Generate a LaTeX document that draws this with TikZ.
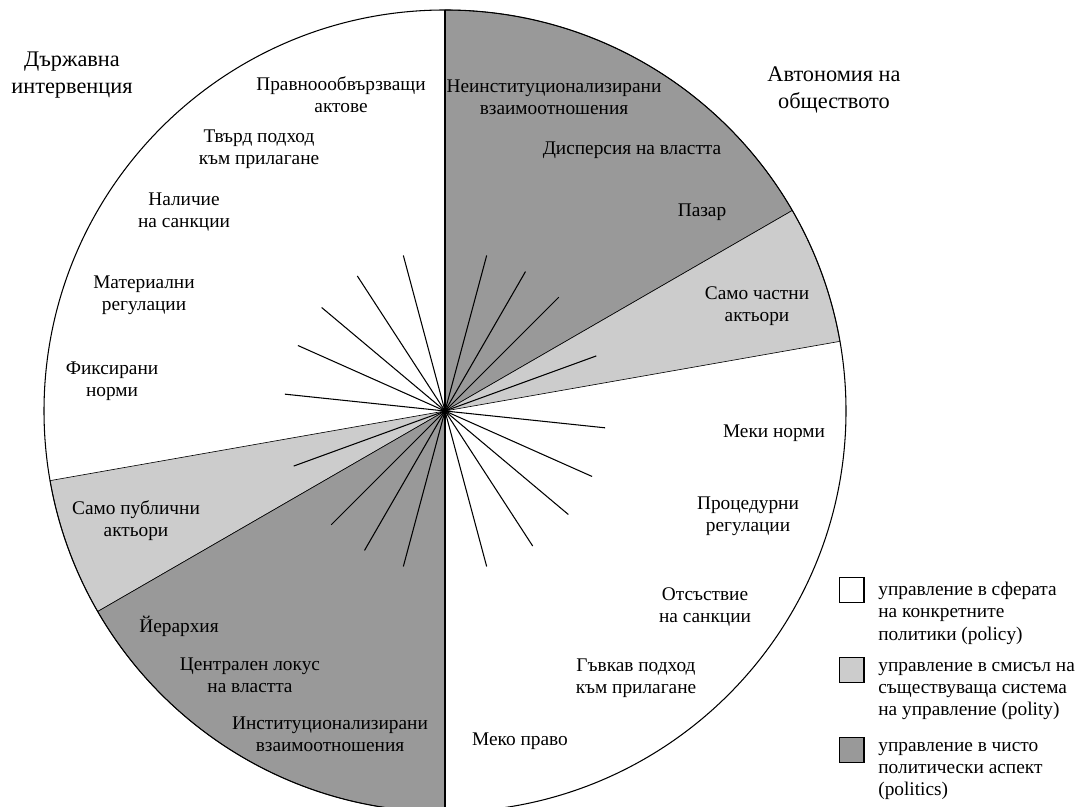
\documentclass[tikz,border=0pt]{standalone}
\usepackage{fontspec}
\setmainfont{Liberation Serif}

\definecolor{policy}{gray}{1}
\definecolor{polity}{gray}{0.8}
\definecolor{politics}{gray}{0.6}

\begin{document}
\begin{tikzpicture}[x=0.02cm,y=0.02cm,
  sector/.style={draw=black,line width=0.35pt},
  spoke/.style={draw=black,line width=0.6pt},
  lbl/.style={align=center,inner sep=0pt,font=\fontsize{11}{12.6}\selectfont},
  head/.style={align=center,inner sep=0pt,font=\fontsize{12.7}{15.2}\selectfont},
  keybox/.style={draw=black,line width=0.6pt,minimum size=14.2pt,inner sep=0pt},
  keytext/.style={align=left,anchor=north west,inner sep=0pt,font=\fontsize{11}{12.6}\selectfont}]

%SPACING
\useasboundingbox (0,0) rectangle (1078,807);
\clip (0,0) rectangle (1078,807);
%SPACING

\coordinate (c) at (445,396);

% sectors
\filldraw[sector,fill=politics] (c) -- ++(30:401) arc[start angle=30,end angle=90,radius=401] -- cycle;
\filldraw[sector,fill=polity] (c) -- ++(10:401) arc[start angle=10,end angle=30,radius=401] -- cycle;
\filldraw[sector,fill=polity] (c) -- ++(190:401) arc[start angle=190,end angle=210,radius=401] -- cycle;
\filldraw[sector,fill=politics] (c) -- ++(210:401) arc[start angle=210,end angle=270,radius=401] -- cycle;
\draw[line width=0.6pt] (c) circle[radius=401];
\draw[line width=1pt] (c) -- ++(90:401);
\draw[line width=1pt] (c) -- ++(270:401);

% spokes
\foreach \a in {75,60,45,20,-6,-24,-40,-57,-75} {
  \draw[spoke] (c) -- ++(\a:161);
  \draw[spoke] (c) -- ++(\a+180:161);
}

\node[head](state) at (72,732) {Държавна\\интервенция};
\node[head](society) at (834,717) {Автономия на\\обществото};

\node[lbl](acts) at (341,712) {Правноообвързващи\\актове};
\node[lbl](hard) at (259,658) {Твърд подход\\към прилагане};
\node[lbl](sanc) at (184,595) {Наличие\\на санкции};
\node[lbl](mreg) at (144,512) {Материални\\регулации};
\node[lbl](fixn) at (112,426) {Фиксирани\\норми};

\node[lbl](ninst) at (554,710) {Неинституционализирани\\взаимоотношения};
\node[lbl](disp) at (632,657) {Дисперсия на властта};
\node[lbl](mark) at (702,595) {Пазар};
\node[lbl](priv) at (757,501) {Само частни\\актьори};

\node[lbl](soft) at (774,374) {Меки норми};
\node[lbl](preg) at (748,291) {Процедурни\\регулации};
\node[lbl](nosanc) at (705,200) {Отсъствие\\на санкции};
\node[lbl](flex) at (636,129) {Гъвкав подход\\към прилагане};
\node[lbl](slaw) at (520,66) {Меко право};

\node[lbl](publ) at (136,286) {Само публични\\актьори};
\node[lbl](hier) at (179,181) {Йерархия};
\node[lbl](cloc) at (250,132) {Централен локус\\на властта};
\node[lbl](inst) at (330,73) {Институционализирани\\взаимоотношения};

% legend
\node[keybox,fill=policy](k1) at (851.5,217) {};
\node[keybox,fill=polity](k2) at (851.5,137) {};
\node[keybox,fill=politics](k3) at (851.5,57) {};

\node[keytext](t1) at (878,225) {управление в сферата\\на конкретните\\политики (policy)};
\node[keytext](t2) at (878,145) {управление в смисъл на\\съществуваща система\\на управление (polity)};
\node[keytext](t3) at (878,65) {управление в чисто\\политически аспект\\(politics)};

\end{tikzpicture}
\end{document}
